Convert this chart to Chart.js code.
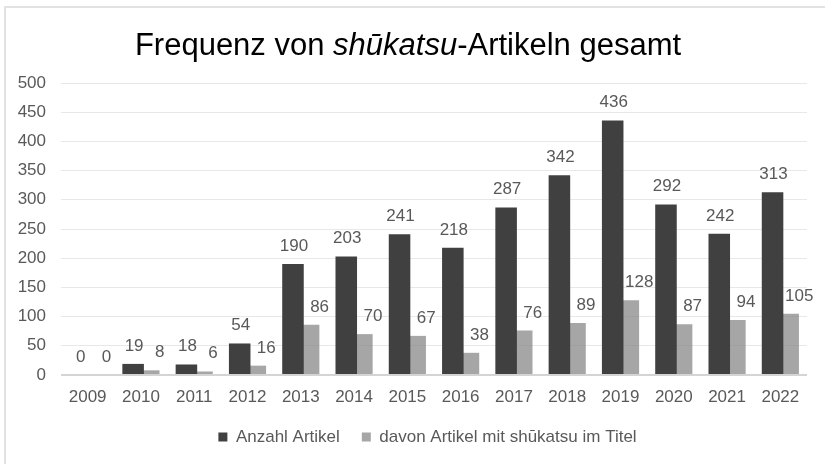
<!DOCTYPE html>
<html>
<head>
<meta charset="utf-8">
<script src="https://cdn.jsdelivr.net/npm/chart.js@4/dist/chart.umd.min.js"></script>
<style>
  html, body { margin: 0; padding: 0; background: #ffffff; }
  #wrap { position: relative; width: 825px; height: 464px; }
  canvas { display: block; }
</style>
</head>
<body>
<div id="wrap"><canvas id="c" width="825" height="464"></canvas></div>
<script>
const years = ['2009','2010','2011','2012','2013','2014','2015','2016','2017','2018','2019','2020','2021','2022'];
const anzahlArtikel = [0, 19, 18, 54, 190, 203, 241, 218, 287, 342, 436, 292, 242, 313];
const artikelMitTitel = [0, 8, 6, 16, 86, 70, 67, 38, 76, 89, 128, 87, 94, 105];
const seriesNames = ['Anzahl Artikel', 'davon Artikel mit shūkatsu im Titel'];
const titleParts = [
  { text: 'Frequenz von ', italic: false },
  { text: 'shūkatsu', italic: true },
  { text: '-Artikeln gesamt', italic: false }
];
const yMax = 500;
const yStep = 50;

const FONT = '"Liberation Sans", Arial, sans-serif';
const TEXT = '#595959';

const frame = {
  id: 'frame',
  beforeDraw(chart) {
    const ctx = chart.ctx;
    ctx.save();
    ctx.fillStyle = '#ffffff';
    ctx.fillRect(0, 0, chart.width, chart.height);
    ctx.strokeStyle = '#e2e2e2';
    ctx.lineWidth = 2;
    ctx.strokeRect(5, 7, chart.width + 20, chart.height + 20);
    ctx.restore();
  }
};

const legendShift = {
  id: 'legendShift',
  afterLayout(chart) {
    if (chart.legend) {
      chart.legend.left += 24;
      chart.legend.right += 24;
    }
  }
};

const richTitle = {
  id: 'richTitle',
  afterDraw(chart) {
    const ctx = chart.ctx;
    ctx.save();
    ctx.fillStyle = '#000000';
    ctx.textBaseline = 'alphabetic';
    const size = 31;
    const fonts = titleParts.map(p => (p.italic ? 'italic ' : '') + size + 'px ' + FONT);
    let total = 0;
    const widths = titleParts.map((p, i) => { ctx.font = fonts[i]; const w = ctx.measureText(p.text).width; total += w; return w; });
    let x = 408 - total / 2;
    titleParts.forEach((p, i) => {
      ctx.font = fonts[i];
      ctx.fillText(p.text, x, 55);
      x += widths[i];
    });
    ctx.restore();
  }
};

const barLabels = {
  id: 'barLabels',
  afterDatasetsDraw(chart) {
    const ctx = chart.ctx;
    ctx.save();
    ctx.font = '17px ' + FONT;
    ctx.fillStyle = TEXT;
    ctx.textAlign = 'center';
    ctx.textBaseline = 'alphabetic';
    const offsets = [1, 11];
    chart.data.datasets.forEach((ds, di) => {
      const meta = chart.getDatasetMeta(di);
      meta.data.forEach((bar, i) => {
        ctx.fillText(String(ds.data[i]), bar.x + offsets[di], bar.y - 13);
      });
    });
    ctx.restore();
  }
};

new Chart(document.getElementById('c'), {
  type: 'bar',
  data: {
    labels: years,
    datasets: [
      {
        label: seriesNames[0],
        data: anzahlArtikel,
        backgroundColor: '#404040',
        borderWidth: 0,
        barPercentage: 1.38,
        categoryPercentage: 0.586
      },
      {
        label: seriesNames[1],
        data: artikelMitTitel,
        backgroundColor: 'rgba(131,131,131,0.72)',
        borderWidth: 0,
        barPercentage: 1.38,
        categoryPercentage: 0.586
      }
    ]
  },
  options: {
    responsive: false,
    animation: false,
    devicePixelRatio: 1,
    layout: { padding: { top: 83, right: 18, bottom: 8.5, left: 0 } },
    plugins: {
      title: { display: false },
      tooltip: { enabled: false },
      legend: {
        position: 'bottom',
        labels: {
          font: { family: FONT, size: 17 },
          color: TEXT,
          boxWidth: 9,
          boxHeight: 9,
          padding: 22,
          useBorderRadius: false
        }
      }
    },
    scales: {
      x: {
        afterFit(scale) { scale.height = 31.5; },
        grid: { display: false, drawTicks: false },
        border: { display: false },
        ticks: { font: { family: FONT, size: 17 }, color: TEXT, padding: 12, maxRotation: 0, autoSkip: false }
      },
      y: {
        min: 0,
        max: yMax,
        afterFit(scale) { scale.width = 61; },
        ticks: { stepSize: yStep, font: { family: FONT, size: 17 }, color: TEXT, padding: 15 },
        grid: {
          drawTicks: false,
          color: ctx => (ctx.tick && ctx.tick.value === 0 ? '#d4d4d4' : '#e8e8e8'),
          lineWidth: ctx => (ctx.tick && ctx.tick.value === 0 ? 2 : 1)
        },
        border: { display: false }
      }
    }
  },
  plugins: [frame, legendShift, richTitle, barLabels]
});
</script>
</body>
</html>
